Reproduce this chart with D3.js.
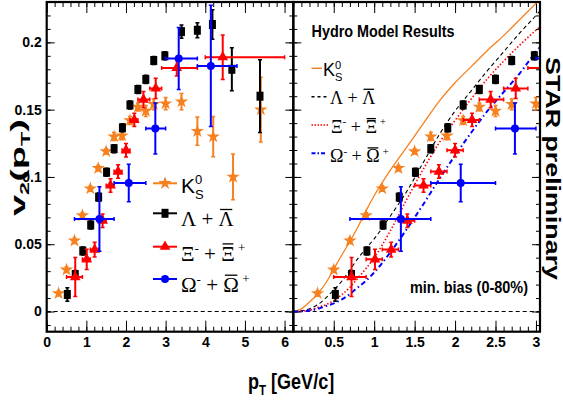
<!DOCTYPE html>
<html><head><meta charset="utf-8">
<script src="https://cdn.jsdelivr.net/npm/d3@7"></script>
<style>body{margin:0;background:#fff}</style>
</head><body>
<svg id="c" width="563" height="403"></svg>
<script>
// ---------------- data ----------------
const k0sPt  = [0.3,0.5,0.7,0.9,1.1,1.3,1.5,1.7,1.9,2.1,2.3,2.5,2.7,3.0,3.4,3.8,4.2,4.7,5.4];
const k0sV2  = [0.0135,0.031,0.0526,0.0714,0.0913,0.1065,0.119,0.130,0.1307,0.142,0.152,0.149,0.154,0.1545,0.156,0.134,0.130,0.100,0.150];
const k0sErr = [0.002,0.002,0.002,0.002,0.002,0.002,0.002,0.003,0.003,0.003,0.003,0.004,0.004,0.0045,0.006,0.0105,0.015,0.017,0.024];

const lamPt  = [0.52,0.72,0.91,1.11,1.31,1.51,1.7,1.91,2.1,2.3,2.5,2.7,2.98,3.4,3.8,4.18,4.67,5.38];
const lamV2  = [0.0127,0.0275,0.045,0.0643,0.085,0.1035,0.121,0.1365,0.1535,0.165,0.1725,0.1865,0.190,0.208,0.209,0.2133,0.180,0.160];
const lamErr = [0.005,0.003,0.003,0.003,0.003,0.003,0.003,0.003,0.003,0.003,0.003,0.003,0.003,0.005,0.0055,0.011,0.016,0.027];

const xiPt  = [0.72,1.01,1.21,1.41,1.61,1.8,2.0,2.21,2.44,2.75,3.28,4.44];
const xiV2  = [0.0256,0.0388,0.046,0.0675,0.0937,0.104,0.1198,0.1424,0.1575,0.1658,0.181,0.189];
const xiErr = [0.0145,0.0075,0.0055,0.005,0.005,0.005,0.005,0.005,0.006,0.0075,0.006,0.0165];
const xiLo  = [0.5,0.9,1.1,1.3,1.5,1.7,1.9,2.1,2.3,2.6,2.9,4.0];
const xiHi  = [0.9,1.1,1.3,1.5,1.7,1.9,2.1,2.3,2.6,2.9,3.8,6.0];

const omPt  = [1.33,2.07,2.74,3.33,4.14];
const omV2  = [0.0687,0.0955,0.136,0.188,0.1825];
const omErr = [0.024,0.014,0.019,0.023,0.045];
const omLo  = [0.7,1.7,2.5,3.0,3.8];
const omHi  = [1.7,2.5,3.0,3.8,4.8];

const hydroPt  = [0,0.1,0.2,0.3,0.4,0.5,0.6,0.7,0.8,0.9,1.0,1.2,1.4,1.6,1.8,2.0,2.2,2.4,2.6,2.8,3.0,3.1];
const hydroK0S = [0,0.002,0.007,0.013,0.021,0.0315,0.042,0.052,0.063,0.075,0.086,0.105,0.122,0.139,0.156,0.170,0.182,0.194,0.205,0.217,0.229,0.235];
const hydroLam = [0,0.0005,0.002,0.005,0.010,0.016,0.0225,0.031,0.0395,0.047,0.054,0.071,0.089,0.110,0.131,0.149,0.164,0.179,0.193,0.207,0.220,0.227];
const hydroXi  = [0,0.0003,0.001,0.003,0.005,0.008,0.0125,0.018,0.025,0.032,0.040,0.060,0.083,0.105,0.125,0.142,0.158,0.173,0.186,0.198,0.209,0.214];
const hydroOm  = [0,0.0002,0.0008,0.002,0.004,0.006,0.009,0.013,0.018,0.023,0.029,0.044,0.061,0.079,0.098,0.116,0.133,0.149,0.163,0.177,0.193,0.200];

const xLeftMajor = [0,1,2,3,4,5,6];
const xLeftLabels = ["0","1","2","3","4","5","6"];
const xRightMajor = [0.5,1,1.5,2,2.5,3];
const xRightLabels = ["0.5","1","1.5","2","2.5","3"];
const yMajor = [0,0.05,0.1,0.15,0.2];
const yLabels = ["0","0.05","0.1","0.15","0.2"];

// ---------------- setup ----------------
const ORANGE = "#f7801f", RED = "#ff0000", BLUE = "#0000ff", BLACK = "#000";
const SANS = "'Liberation Sans Narrow','Arial Narrow','Liberation Sans',Arial,sans-serif";
const SANSW = "'Liberation Sans',Arial,Helvetica,sans-serif";
const SERIF = "'Liberation Serif','Times New Roman',Times,serif";

const svg = d3.select("#c");
svg.append("rect").attr("width",563).attr("height",403).attr("fill","#fff");

const L = 46.7, M = 293.3, R = 540, T = 2, B = 331.7;
const xL = d3.scaleLinear().domain([0, 6.22]).range([L, M]);
const xR = d3.scaleLinear().domain([0, 3.05]).range([M, R]);
const y  = d3.scaleLinear().domain([-0.015, 0.23]).range([B, T]);

const defs = svg.append("defs");
defs.append("clipPath").attr("id","clipL").append("rect").attr("x",L).attr("y",T).attr("width",M-L).attr("height",B-T);
defs.append("clipPath").attr("id","clipR").append("rect").attr("x",M).attr("y",T).attr("width",R-M).attr("height",B-T);

// ---------------- axes ----------------
function ticks(axisGen, scale, vals, size, tx, ty, labels) {
  const a = axisGen(scale).tickValues(vals).tickSizeInner(size).tickSizeOuter(0).tickPadding(5)
    .tickFormat((d,i) => labels ? labels[i] : "");
  const g = svg.append("g").attr("transform", `translate(${tx},${ty})`).call(a);
  g.select(".domain").remove();
  g.selectAll(".tick line").attr("stroke","#000").attr("stroke-width",1);
  g.selectAll("text").attr("font-family",SANS).attr("font-weight","bold").attr("font-size",14).attr("fill","#000");
  return g;
}
const xLminor = d3.range(0, 6.21, 0.2);
const xRminor = d3.range(0, 3.05, 0.1);
const yMinor = d3.range(-0.01, 0.2301, 0.01);

// left panel
ticks(d3.axisBottom, xL, xLminor, -5, 0, B);
ticks(d3.axisBottom, xL, xLeftMajor, -11, 0, B, xLeftLabels);
ticks(d3.axisTop, xL, xLminor, -5, 0, T);
ticks(d3.axisTop, xL, xLeftMajor, -11, 0, T);
ticks(d3.axisLeft, y, yMinor, -4, L, 0);
const yl = ticks(d3.axisLeft, y, yMajor, -8, L, 0, yLabels);
yl.selectAll("text").attr("x", -5);
ticks(d3.axisRight, y, yMinor, -4, M, 0);
ticks(d3.axisRight, y, yMajor, -8, M, 0);
// right panel
ticks(d3.axisBottom, xR, xRminor, -5, 0, B);
ticks(d3.axisBottom, xR, xRightMajor, -11, 0, B, xRightLabels);
ticks(d3.axisTop, xR, xRminor, -5, 0, T);
ticks(d3.axisTop, xR, xRightMajor, -11, 0, T);
ticks(d3.axisLeft, y, yMinor, -4, M, 0);
ticks(d3.axisLeft, y, yMajor, -8, M, 0);
ticks(d3.axisRight, y, yMinor, -4, R, 0);
ticks(d3.axisRight, y, yMajor, -8, R, 0);

// zero dashed line
svg.append("line").attr("x1",L).attr("x2",R).attr("y1",y(0)).attr("y2",y(0))
  .attr("stroke","#000").attr("stroke-width",1).attr("stroke-dasharray","4,3");

// ---------------- hydro curves (right) ----------------
const gR = svg.append("g").attr("clip-path","url(#clipR)");
const gL = svg.append("g").attr("clip-path","url(#clipL)");
const hline = d3.line().x((d,i)=>xR(hydroPt[i])).y(d=>y(d)).curve(d3.curveMonotoneX);
const curves = [
  [hydroK0S, ORANGE, null, 1.3],
  [hydroLam, BLACK, "4,3", 1.1],
  [hydroXi, RED, "1.5,2", 1.6],
  [hydroOm, BLUE, "5,3,1.5,3", 2],
];
curves.forEach(([v,c,da,w]) => {
  gR.append("path").attr("d", hline(v)).attr("fill","none").attr("stroke",c)
    .attr("stroke-width",w).attr("stroke-dasharray",da);
});

// ---------------- markers ----------------
const starPath = d3.symbol(d3.symbolStar, 56)();
const triPath = d3.symbol(d3.symbolTriangle, 50)();

function drawSeries(g, x, pts, v2, err, lo, hi, color, type) {
  const cap = 2;
  pts.forEach((p,i) => {
    const cx = x(p), cy = y(v2[i]);
    const y1 = y(v2[i]+err[i]), y2 = y(v2[i]-err[i]);
    g.append("line").attr("x1",cx).attr("x2",cx).attr("y1",y1).attr("y2",y2).attr("stroke",color).attr("stroke-width",2);
    g.append("line").attr("x1",cx-cap).attr("x2",cx+cap).attr("y1",y1).attr("y2",y1).attr("stroke",color).attr("stroke-width",1.5);
    g.append("line").attr("x1",cx-cap).attr("x2",cx+cap).attr("y1",y2).attr("y2",y2).attr("stroke",color).attr("stroke-width",1.5);
    if (lo) {
      const xa = x(lo[i]), xb = x(hi[i]);
      g.append("line").attr("x1",xa).attr("x2",xb).attr("y1",cy).attr("y2",cy).attr("stroke",color).attr("stroke-width",2);
      g.append("line").attr("x1",xa).attr("x2",xa).attr("y1",cy-cap).attr("y2",cy+cap).attr("stroke",color).attr("stroke-width",1.5);
      g.append("line").attr("x1",xb).attr("x2",xb).attr("y1",cy-cap).attr("y2",cy+cap).attr("stroke",color).attr("stroke-width",1.5);
    }
    drawMarker(g, cx, cy, color, type);
  });
}
function drawMarker(g, cx, cy, color, type) {
  if (type === "star") g.append("path").attr("d",starPath).attr("transform",`translate(${cx},${cy})`).attr("fill",color);
  else if (type === "square") g.append("rect").attr("x",cx-3.5).attr("y",cy-4.5).attr("width",7).attr("height",9).attr("fill",color);
  else if (type === "tri") g.append("path").attr("d",triPath).attr("transform",`translate(${cx},${cy})`).attr("fill",color);
  else g.append("circle").attr("cx",cx).attr("cy",cy).attr("r",4).attr("fill",color);
}
[[gL,xL],[gR,xR]].forEach(([g,x]) => {
  drawSeries(g, x, k0sPt, k0sV2, k0sErr, null, null, ORANGE, "star");
  drawSeries(g, x, lamPt, lamV2, lamErr, null, null, BLACK, "square");
  drawSeries(g, x, xiPt, xiV2, xiErr, xiLo, xiHi, RED, "tri");
  drawSeries(g, x, omPt, omV2, omErr, omLo, omHi, BLUE, "circle");
});

// ---------------- frames ----------------
svg.append("rect").attr("x",L).attr("y",T).attr("width",M-L).attr("height",B-T)
  .attr("fill","none").attr("stroke","#000").attr("stroke-width",2.2);
svg.append("rect").attr("x",M).attr("y",T).attr("width",R-M).attr("height",B-T)
  .attr("fill","none").attr("stroke","#000").attr("stroke-width",2.2);

// ---------------- rich text helper ----------------
function rich(x, yb, segs, size, family, weight) {
  const g = svg.append("g");
  let cx = x, maxAdv = 0, keepX = null;
  segs.forEach(s => {
    const fs = (s.sup || s.sub) ? size*0.62 : size;
    const dy = s.sup ? -size*0.42 : s.sub ? size*0.28 : 0;
    const t = g.append("text").attr("x",cx).attr("y",yb+dy).attr("font-size",fs)
      .attr("font-family", s.family || family).attr("font-weight", s.weight || weight || "normal")
      .attr("xml:space","preserve").style("white-space","pre").text(s.t);
    const w = t.node().getComputedTextLength();
    if (s.bar) g.append("line").attr("x1",cx+w*0.1).attr("x2",cx+w*0.9)
      .attr("y1",yb-size*0.80).attr("y2",yb-size*0.80).attr("stroke","#000").attr("stroke-width",1.3);
    if (s.keep) { keepX = cx; maxAdv = w; }
    else if (keepX !== null) { cx = keepX + Math.max(maxAdv, w); keepX = null; }
    else cx += w;
  });
  return g;
}

// ---------------- left legend ----------------
const legL = [
  [183.3, ORANGE, "star", 10, [{t:"K",family:SANSW},{t:"0",sup:true,keep:true,family:SANSW},{t:"S",sub:true,family:SANSW}]],
  [213.3, BLACK, "square", 13, [{t:"Λ"},{t:" + "},{t:"Λ",bar:true}]],
  [246.7, RED, "tri", 14, [{t:"Ξ"},{t:"-",sup:true},{t:" + "},{t:"Ξ",bar:true},{t:" +",sup:true}]],
  [279, BLUE, "circle", 13, [{t:"Ω"},{t:"-",sup:true},{t:" + "},{t:"Ω",bar:true},{t:" +",sup:true}]],
];
legL.forEach(([ly, c, type, off, segs]) => {
  svg.append("line").attr("x1",153).attr("x2",177).attr("y1",ly).attr("y2",ly).attr("stroke",c).attr("stroke-width",2);
  drawMarker(svg, 165, ly, c, type);
  rich(181, ly+off, segs, 21, SERIF);
});

// ---------------- right legend ----------------
svg.append("text").attr("x",311.5).attr("y",37).attr("font-family",SANS).attr("font-weight","bold")
  .attr("font-size",17).attr("textLength",143).attr("lengthAdjust","spacingAndGlyphs").text("Hydro Model Results");
const legR = [
  [68.3, ORANGE, null, 322, 323, 8, [{t:"K",family:SANSW},{t:"0",sup:true,keep:true,family:SANSW},{t:"S",sub:true,family:SANSW}]],
  [96.7, BLACK, "3,3", 327, 330, 7, [{t:"Λ"},{t:" + "},{t:"Λ",bar:true}]],
  [125, RED, "1.5,1.5", 328, 331, 8, [{t:"Ξ"},{t:"-",sup:true},{t:" + "},{t:"Ξ",bar:true},{t:" +",sup:true}]],
  [153.3, BLUE, "4,2,1.5,2", 327, 330, 9, [{t:"Ω"},{t:"-",sup:true},{t:" + "},{t:"Ω",bar:true},{t:" +",sup:true}]],
];
legR.forEach(([ly, c, da, x2, tx, off, segs]) => {
  svg.append("line").attr("x1",311.5).attr("x2",x2).attr("y1",ly).attr("y2",ly).attr("stroke",c)
    .attr("stroke-width", c===BLUE?2:1.4).attr("stroke-dasharray",da);
  rich(tx, ly+off, segs, 18, SERIF);
});

// min bias
svg.append("text").attr("x",410).attr("y",293).attr("font-family",SANS).attr("font-weight","bold")
  .attr("font-size",17).attr("textLength",118).attr("lengthAdjust","spacingAndGlyphs").text("min. bias (0-80%)");

// STAR preliminary
svg.append("text").attr("transform","translate(546,57) rotate(90)").attr("font-family",SANSW)
  .attr("font-weight","bold").attr("font-size",20).attr("textLength",223).attr("lengthAdjust","spacingAndGlyphs")
  .text("STAR preliminary");

// axis titles
const yt = svg.append("text").attr("transform","translate(25,216) rotate(-90)").attr("font-family",SANSW)
  .attr("font-weight","bold").attr("font-size",21).attr("textLength",97).attr("lengthAdjust","spacingAndGlyphs");
yt.append("tspan").text("v");
yt.append("tspan").attr("font-size",13).attr("dy",4).text("2");
yt.append("tspan").attr("dy",-4).text("(p");
yt.append("tspan").attr("font-size",13).attr("dy",5).text("T");
yt.append("tspan").attr("dy",-5).text(")");

const xt = svg.append("text").attr("transform","translate(248,389) scale(0.82,1)").attr("font-family",SANSW)
  .attr("font-weight","bold").attr("font-size",22);
xt.append("tspan").text("p");
xt.append("tspan").attr("font-size",14).attr("dy",6).text("T");
xt.append("tspan").attr("dy",-6).text(" [GeV/c]");
</script>
</body></html>
